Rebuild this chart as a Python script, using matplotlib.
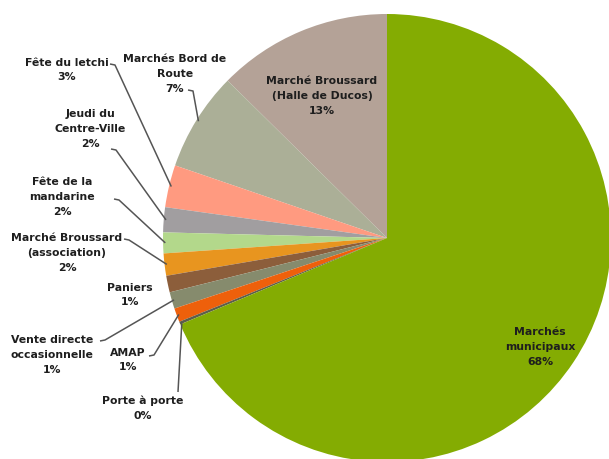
import matplotlib
matplotlib.use("Agg")
import matplotlib.pyplot as plt
import numpy as np

categories = ["Marché Broussard\n(Halle de Ducos)", "Marchés Bord de\nRoute", "Fête du letchi",
              "Jeudi du\nCentre-Ville", "Fête de la\nmandarine", "Marché Broussard\n(association)",
              "Paniers", "Vente directe\noccasionnelle", "AMAP", "Porte à porte", "Marchés\nmunicipaux"]
values = [12.6, 7.15, 3.05, 1.8, 1.5, 1.6, 1.2, 1.2, 1.0, 0.2, 68.7]
pct_labels = ["13%", "7%", "3%", "2%", "2%", "2%", "1%", "1%", "1%", "0%", "68%"]
colors = ["#B4A297", "#ABAF97", "#FF9A80", "#A19EA0", "#B3D88B", "#E8951F",
          "#8C5E3B", "#868B6D", "#EE600B", "#5E5E4A", "#84AC02"]

W, H = 609, 460
CX, CY, R = 387, 239, 224

def px(x, y):
    return ((x - CX) / R, (CY - y) / R)

fig = plt.figure(figsize=(W / 100, H / 100), dpi=100)
ax = fig.add_axes([0, 0, 1, 1])

wedges, _ = ax.pie(values, colors=colors, startangle=90, counterclock=True,
                   radius=1.0, center=(0, 0), frame=True,
                   wedgeprops=dict(linewidth=0))
ax.set_xlim(-CX / R, (W - CX) / R)
ax.set_ylim(-(H - CY) / R, CY / R)
ax.set_aspect("equal")
ax.axis("off")

# label layout: text center (px), leader start (px) or None
layout = [
    ((322, 96), None),
    ((175, 74), (188, 91)),
    ((67, 70), (110, 65)),
    ((90, 129), (111, 150)),
    ((62, 197), (114, 200)),
    ((67, 253), (124, 240)),
    ((130, 295), None),
    ((52, 355), (100, 342)),
    ((128, 360), (149, 357)),
    ((143, 408), (178, 393)),
    ((540, 347), None),
]

font = dict(family="DejaVu Sans", fontweight="bold", fontsize=7.8, color="#1E1E1E")
for w, cat, pct, (tpos, lstart) in zip(wedges, categories, pct_labels, layout):
    tx, ty = px(*tpos)
    ax.text(tx, ty, cat + "\n" + pct, ha="center", va="center",
            linespacing=1.62, **font)
    if lstart is not None:
        mid = np.deg2rad((w.theta1 + w.theta2) / 2)
        ex, ey = np.cos(mid) * 0.99, np.sin(mid) * 0.99
        sx, sy = px(*lstart)
        if cat == "Porte à porte":
            xs = [sx, ex]
            ys = [sy, ey]
        else:
            kx = sx + (5 / R if ex > sx else -5 / R)
            ky = sy - 1 / R if ey < sy else sy + 1 / R
            xs = [sx, kx, ex]
            ys = [sy, ky, ey]
        ax.plot(xs, ys, color="#555555", lw=1.1, solid_capstyle="butt")

fig.savefig("out.png", dpi=100)
